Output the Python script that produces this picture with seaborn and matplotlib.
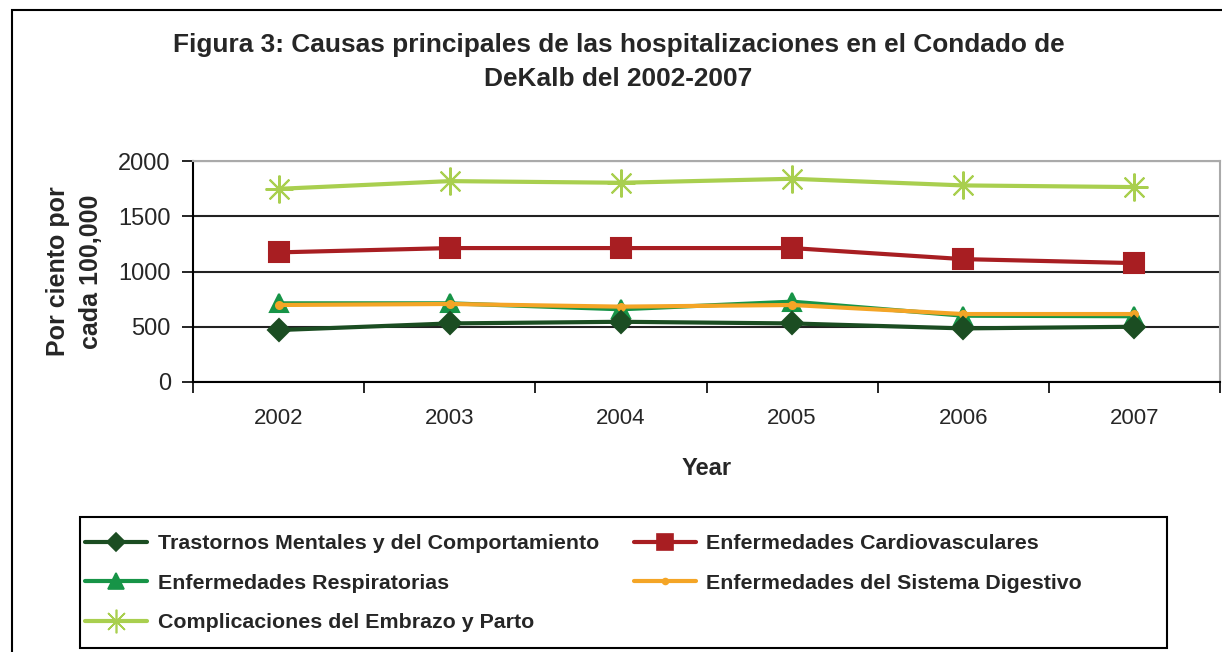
import matplotlib
matplotlib.use("Agg")
import matplotlib.pyplot as plt
import matplotlib.patches as patches
from matplotlib.lines import Line2D
import seaborn as sns
import pandas as pd

# data
years = ["2002", "2003", "2004", "2005", "2006", "2007"]
mentales = [470, 530, 545, 530, 485, 500]
cardio = [1173, 1212, 1212, 1212, 1112, 1076]
respiratorias = [712, 712, 658, 727, 600, 595]
digestivo = [697, 706, 682, 697, 615, 615]
embarazo = [1748, 1818, 1803, 1839, 1779, 1764]

series = [
    ("Trastornos Mentales y del Comportamiento", mentales, "#1b4d22", "D", 11),
    ("Enfermedades Respiratorias", respiratorias, "#179447", "^", 13),
    ("Complicaciones del Embrazo y Parto", embarazo, "#a9cf4f", (8, 2, 0), 20),
    ("Enfermedades Cardiovasculares", cardio, "#a81e22", "s", 14),
    ("Enfermedades del Sistema Digestivo", digestivo, "#f4a526", "o", 5),
]

sns.set_style("white")
plt.rcParams["font.family"] = ["Liberation Sans", "DejaVu Sans"]

W, H = 1222, 652
fig = plt.figure(figsize=(W / 100, H / 100), dpi=100)
ax = fig.add_axes([193 / W, 1 - 382 / H, (1220 - 193) / W, 221 / H])

x = list(range(len(years)))
for i in [2, 3, 1, 4, 0]:
    name, vals, col, mk, ms = series[i]
    df = pd.DataFrame({"x": x, "y": vals})
    sns.lineplot(data=df, x="x", y="y", ax=ax, color=col, lw=3, marker=mk,
                 markersize=ms, markeredgecolor=col, markeredgewidth=1.5,
                 legend=False)

handles = []
for name, vals, col, mk, ms in series:
    handles.append(Line2D([], [], color=col, lw=3, marker=mk,
                          markersize=ms * 0.85, markeredgecolor=col,
                          markeredgewidth=1.2, label=name))

ax.set_xlim(-0.5, 5.5)
ax.set_ylim(0, 2000)
ax.set_yticks([0, 500, 1000, 1500, 2000])
ax.set_xticks(x)
ax.set_xticklabels(years)
ax.set_xticks([i + 0.5 for i in range(-1, 6)], minor=True)
ax.tick_params(axis="x", which="major", length=0, pad=19, labelsize=16)
ax.tick_params(axis="x", which="minor", length=8, width=1.2, direction="out",
               color="black", bottom=True)
ax.tick_params(axis="y", length=8, width=1.2, direction="out", color="black",
               left=True, labelsize=17, pad=8)
ax.yaxis.grid(True, color="#222222", lw=1.5)
ax.set_axisbelow(True)
for s in ["top", "right"]:
    ax.spines[s].set_color("#aaaaaa")
    ax.spines[s].set_linewidth(1.5)
for s in ["left", "bottom"]:
    ax.spines[s].set_color("black")
    ax.spines[s].set_linewidth(1.5)

ax.set_xlabel("Year", fontsize=17, fontweight="bold", labelpad=20)
ax.set_ylabel("Por ciento por\ncada 100,000", fontsize=18, fontweight="bold",
              linespacing=1.5)
ax.yaxis.set_label_coords(-90 / 1027, 0.5)

fig.text(0.506, 1 - 62 / H, "Figura 3: Causas principales de las hospitalizaciones en el Condado de\nDeKalb del 2002-2007",
         ha="center", va="center", fontsize=18.9, fontweight="bold",
         linespacing=1.5)

leg = fig.legend(handles=handles, ncol=2, loc="upper left",
                 bbox_to_anchor=(80 / W, 1 - 529 / H), borderaxespad=0,
                 prop={"weight": "bold", "size": 15.4},
                 frameon=False, handlelength=2.9, handletextpad=0.5,
                 columnspacing=1.6, labelspacing=0.95, borderpad=0.25)

fig.patches.append(patches.Rectangle((80 / W, 1 - 648 / H), (1167 - 80) / W,
                                     (648 - 517) / H, transform=fig.transFigure,
                                     fill=False, edgecolor="black", lw=1.5))
fig.patches.append(patches.Rectangle((12 / W, -0.1), 1.2, 1.1 - 10 / H,
                                     transform=fig.transFigure, fill=False,
                                     edgecolor="black", lw=1.5))

fig.savefig("out.png", dpi=100)
